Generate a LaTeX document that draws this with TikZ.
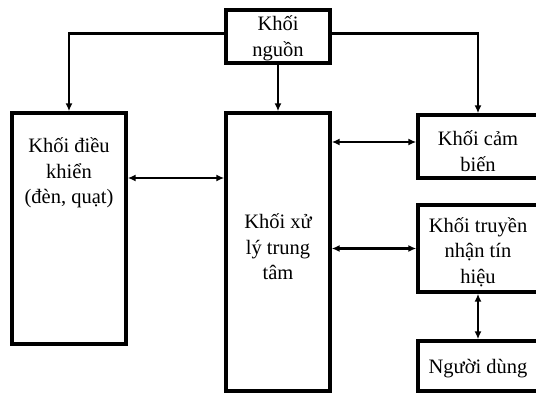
\documentclass[tikz,border=0pt]{standalone}
\usepackage{fontspec}
\setmainfont{Liberation Serif}
\usetikzlibrary{arrows.meta}
\begin{document}
\begin{tikzpicture}[x=1pt,y=-1pt,
  box/.style={draw,line width=3.4pt,inner sep=0pt,outer sep=1.7pt},
  txt/.style={align=center,inner sep=0pt,font=\fontsize{20.5}{25.5}\selectfont},
  conn/.style={line width=2.2pt,-{Latex[length=8pt,width=7pt]}},
  dbl/.style={line width=2.2pt,{Latex[length=8pt,width=7pt]}-{Latex[length=8pt,width=7pt]}}]
\useasboundingbox (0,0) rectangle (536,394);
\fill[white] (0,0) rectangle (536,394);
\node[box,minimum width=104pt,minimum height=53pt] (N) at (278,36.5) {};
\node[txt] (Nt) at (278,38.5) {Khối\\nguồn};
\node[box,minimum width=114pt,minimum height=231pt] (L) at (69,228.5) {};
\node[txt] (Lt) at (69,173) {Khối điều\\khiển\\(đèn, quạt)};
\node[box,minimum width=104pt,minimum height=278pt] (C) at (278,252) {};
\node[txt] (Ct) at (278,247) {Khối xử\\lý trung\\tâm};
\node[box,minimum width=120pt,minimum height=63pt] (S) at (478,146.5) {};
\node[txt] (St) at (478,151) {Khối cảm\\biến};
\node[box,minimum width=120pt,minimum height=87pt] (T) at (478,248.5) {};
\node[txt] (Tt) at (478,252) {Khối truyền\\nhận tín\\hiệu};
\node[box,minimum width=120pt,minimum height=50pt] (U) at (478,366) {};
\node[txt] (Ut) at (478,369) {Người dùng};
\draw[conn] ([yshift=3pt]N.west) -| (L.north);
\draw[conn] ([yshift=3pt]N.east) -| (S.north);
\draw[conn] (N.south) -- (C.north);
\draw[dbl] (L.east |- 0,178) -- (C.west |- 0,178);
\draw[dbl] (C.east |- 0,142) -- (S.west |- 0,142);
\draw[dbl] (C.east |- T.west) -- (T.west);
\draw[dbl] (T.south) -- (U.north);
\end{tikzpicture}
\end{document}
